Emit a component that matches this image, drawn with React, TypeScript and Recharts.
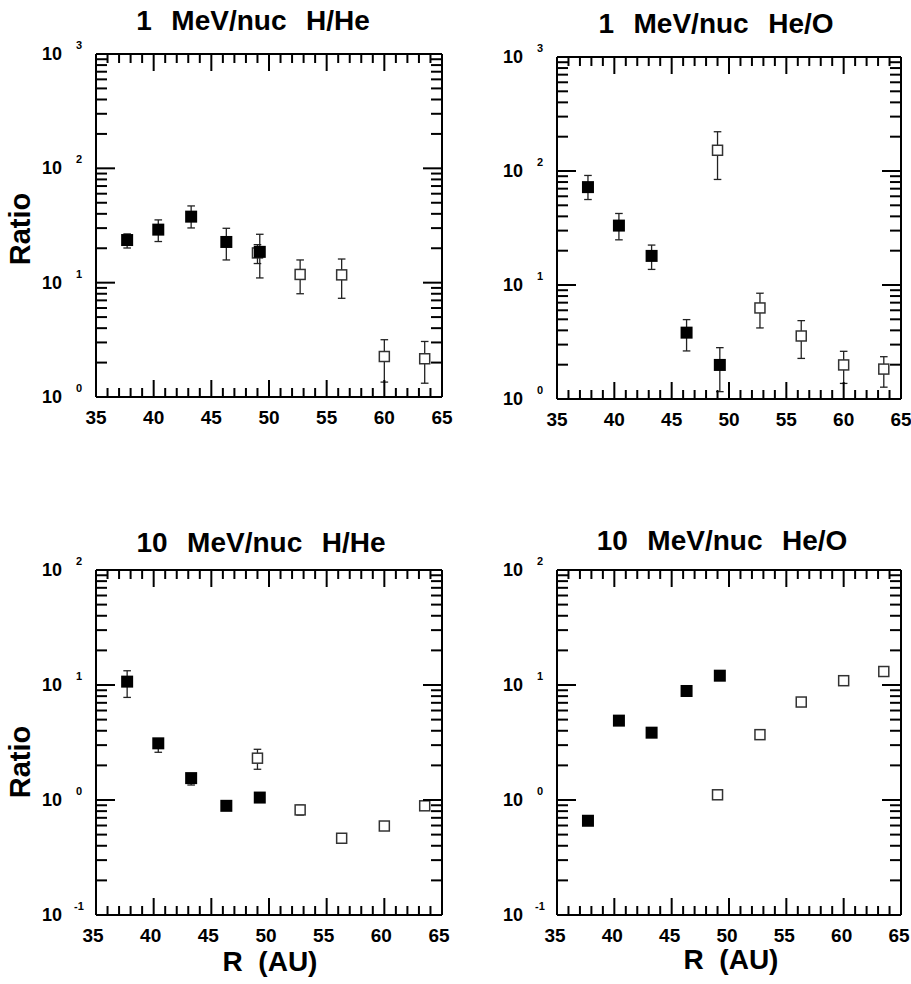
import React from 'react';
import { ScatterChart, Scatter, XAxis, YAxis, ErrorBar } from 'recharts';

const FONT = '"Liberation Sans", Arial, Helvetica, sans-serif';

// Radial distances (AU)
const filledR = [37.7, 40.4, 43.25, 46.3, 49.2];
const openR = [49.0, 52.7, 56.3, 60.0, 63.5];

// Axis ticks
const xTicks = [35, 36, 37, 38, 39, 40, 41, 42, 43, 44, 45, 46, 47, 48, 49, 50, 51, 52, 53, 54, 55, 56, 57, 58, 59, 60, 61, 62, 63, 64, 65];
const xMajor = [35, 40, 45, 50, 55, 60, 65];
const topDecades = [1, 10, 100, 1000];
const bottomDecades = [0.1, 1, 10, 100];
const minorMult = [2, 3, 4, 5, 6, 7, 8, 9];

// Panel 1: 1 MeV/nuc H/He
const p1Filled = [23.6, 29.1, 37.8, 22.7, 18.6];
const p1FilledLo = [20.1, 22.9, 30.1, 15.8, 11.0];
const p1FilledHi = [26.7, 35.4, 46.9, 29.9, 26.5];
const p1Open = [18.2, 11.8, 11.7, 2.26, 2.16];
const p1OpenLo = [14.7, 8.0, 7.3, 1.35, 1.32];
const p1OpenHi = [21.5, 15.8, 16.1, 3.17, 3.06];

// Panel 2: 1 MeV/nuc He/O
const p2Filled = [72.2, 33.2, 18.0, 3.82, 1.99];
const p2FilledLo = [56.2, 24.9, 13.7, 2.64, 1.16];
const p2FilledHi = [91.4, 42.4, 22.4, 4.97, 2.82];
const p2Open = [152, 6.29, 3.57, 1.99, 1.83];
const p2OpenLo = [84.3, 4.2, 2.27, 1.37, 1.27];
const p2OpenHi = [221, 8.47, 4.87, 2.62, 2.35];

// Panel 3: 10 MeV/nuc H/He
const p3Filled = [10.7, 3.11, 1.55, 0.89, 1.05];
const p3FilledLo = [7.8, 2.6, 1.35, 0.85, 1.0];
const p3FilledHi = [13.3, 3.4, 1.65, 0.93, 1.1];
const p3Open = [2.31, 0.82, 0.465, 0.594, 0.89];
const p3OpenLo = [1.85, 0.74, 0.45, 0.58, 0.87];
const p3OpenHi = [2.76, 0.9, 0.48, 0.61, 0.92];

// Panel 4: 10 MeV/nuc He/O
const p4Filled = [0.66, 4.9, 3.85, 8.87, 12.05];
const p4Open = [1.11, 3.7, 7.11, 10.9, 13.1];

const buildTicks = (decades: number[]) => {
  const out: number[] = [];
  decades.forEach((d, i) => {
    out.push(d);
    if (i < decades.length - 1) minorMult.forEach((m) => out.push(parseFloat((d * m).toPrecision(6))));
  });
  return out;
};

const rows = (R: number[], v: number[], lo?: number[], hi?: number[]) =>
  R.map((r, i) => ({
    r,
    v: v[i],
    err: lo && hi ? [v[i] - lo[i], hi[i] - v[i]] : [0, 0],
  }));

const isMajorY = (v: number) => {
  const lg = Math.log10(v);
  return Math.abs(lg - Math.round(lg)) < 1e-6;
};

const XTickBottom = (props: any) => {
  const { x, y, payload, labelDx } = props;
  const v = payload.value;
  const major = xMajor.includes(v);
  return (
    <g>
      <line x1={x} x2={x} y1={y} y2={y - (major ? 17 : 9)} stroke="#000" strokeWidth={2} />
      {major && (
        <text x={x + labelDx} y={y + 20} textAnchor="middle" dominantBaseline="central" fontFamily={FONT} fontWeight="bold" fontSize={19} fill="#000">
          {v}
        </text>
      )}
    </g>
  );
};

const XTickTop = (props: any) => {
  const { x, y, payload } = props;
  const major = xMajor.includes(payload.value);
  return <line x1={x} x2={x} y1={y} y2={y + (major ? 17 : 9)} stroke="#000" strokeWidth={2} />;
};

const YTickLeft = (props: any) => {
  const { x, y, payload } = props;
  const v = payload.value;
  const major = isMajorY(v);
  const exp = Math.round(Math.log10(v));
  return (
    <g>
      <line x1={x} x2={x + (major ? 19 : 11)} y1={y} y2={y} stroke="#000" strokeWidth={2} />
      {major && (
        <g>
          <text x={x - 34} y={y} textAnchor="end" dominantBaseline="central" fontFamily={FONT} fontWeight="bold" fontSize={18} fill="#000">
            10
          </text>
          <text x={x - 17} y={y - 9} textAnchor="middle" dominantBaseline="central" fontFamily={FONT} fontWeight="bold" fontSize={11} fill="#000">
            {String(exp)}
          </text>
        </g>
      )}
    </g>
  );
};

const YTickRight = (props: any) => {
  const { x, y, payload } = props;
  const major = isMajorY(payload.value);
  return <line x1={x} x2={x - (major ? 19 : 11)} y1={y} y2={y} stroke="#000" strokeWidth={2} />;
};

const FilledSquare = (props: any) => {
  const { cx, cy } = props;
  return <rect x={cx - 6} y={cy - 6} width={12} height={12} fill="#000" />;
};

const OpenSquare = (props: any) => {
  const { cx, cy } = props;
  return <rect x={cx - 5} y={cy - 5} width={10} height={10} fill="#fff" stroke="#333" strokeWidth={1.5} />;
};

type PanelProps = {
  left: number;
  top: number;
  width: number;
  height: number;
  margin: { top: number; right: number; bottom: number; left: number };
  yDomain: [number, number];
  yTicks: number[];
  filled: any[];
  open: any[];
  showErr: boolean;
  labelDx: number;
};

const axisLine = { stroke: '#000', strokeWidth: 2 };

function Panel(p: PanelProps) {
  return (
    <div style={{ position: 'absolute', left: p.left, top: p.top, width: p.width, height: p.height }}>
      <ScatterChart width={p.width} height={p.height} margin={p.margin}>
        <XAxis xAxisId="b" type="number" dataKey="r" orientation="bottom" domain={[35, 65]} ticks={xTicks} interval={0}
          height={30} tickSize={0} tickMargin={0} tickLine={false} axisLine={axisLine} allowDataOverflow
          tick={(t: any) => <XTickBottom {...t} labelDx={p.labelDx} />} />
        <XAxis xAxisId="t" type="number" dataKey="r" orientation="top" domain={[35, 65]} ticks={xTicks} interval={0}
          height={10} tickSize={0} tickMargin={0} tickLine={false} axisLine={axisLine} allowDataOverflow
          tick={(t: any) => <XTickTop {...t} />} />
        <YAxis yAxisId="l" type="number" dataKey="v" scale="log" domain={p.yDomain} ticks={p.yTicks} interval={0}
          width={40} tickSize={0} tickMargin={0} tickLine={false} axisLine={axisLine} allowDataOverflow
          tick={(t: any) => <YTickLeft {...t} />} />
        <YAxis yAxisId="r" type="number" dataKey="v" orientation="right" scale="log" domain={p.yDomain} ticks={p.yTicks} interval={0}
          width={10} tickSize={0} tickMargin={0} tickLine={false} axisLine={axisLine} allowDataOverflow
          tick={(t: any) => <YTickRight {...t} />} />
        <Scatter xAxisId="b" yAxisId="l" data={p.open} dataKey="v" shape={OpenSquare} isAnimationActive={false}>
          {p.showErr && <ErrorBar dataKey="err" direction="y" width={3.8} stroke="#222" strokeWidth={1.3} isAnimationActive={false} />}
        </Scatter>
        <Scatter xAxisId="b" yAxisId="l" data={p.filled} dataKey="v" shape={FilledSquare} isAnimationActive={false}>
          {p.showErr && <ErrorBar dataKey="err" direction="y" width={3.8} stroke="#222" strokeWidth={1.3} isAnimationActive={false} />}
        </Scatter>
      </ScatterChart>
    </div>
  );
}

const textBase: React.CSSProperties = {
  position: 'absolute',
  fontFamily: FONT,
  fontWeight: 'bold',
  color: '#000',
  whiteSpace: 'pre',
  textAlign: 'center',
};

const Title = ({ text, cx, cy, size = 28, ws = 0 }: { text: string; cx: number; cy: number; size?: number; ws?: number }) => (
  <div style={{ ...textBase, left: cx - 250, width: 500, top: cy - 20, height: 40, lineHeight: '40px', fontSize: size, wordSpacing: ws }}>{text}</div>
);

const RatioLabel = ({ cx, cy }: { cx: number; cy: number }) => (
  <div style={{ ...textBase, left: cx - 100, width: 200, top: cy - 20, height: 40, lineHeight: '40px', fontSize: 29, transform: 'rotate(-90deg)' }}>
    Ratio
  </div>
);

export default function App() {
  const topTicks = buildTicks(topDecades);
  const botTicks = buildTicks(bottomDecades);
  return (
    <div style={{ position: 'absolute', left: 0, top: 0, width: 911, height: 984, background: '#fff', overflow: 'hidden' }}>
      <Panel left={0} top={0} width={455} height={450} margin={{ top: 44, right: 3, bottom: 23, left: 56 }}
        yDomain={[1, 1000]} yTicks={topTicks}
        filled={rows(filledR, p1Filled, p1FilledLo, p1FilledHi)} open={rows(openR, p1Open, p1OpenLo, p1OpenHi)} showErr labelDx={0} />
      <Panel left={455} top={0} width={456} height={450} margin={{ top: 47, right: 0, bottom: 21, left: 62 }}
        yDomain={[1, 1000]} yTicks={topTicks}
        filled={rows(filledR, p2Filled, p2FilledLo, p2FilledHi)} open={rows(openR, p2Open, p2OpenLo, p2OpenHi)} showErr labelDx={0} />
      <Panel left={0} top={500} width={455} height={484} margin={{ top: 60, right: 3, bottom: 39, left: 56 }}
        yDomain={[0.1, 100]} yTicks={botTicks}
        filled={rows(filledR, p3Filled, p3FilledLo, p3FilledHi)} open={rows(openR, p3Open, p3OpenLo, p3OpenHi)} showErr labelDx={-3} />
      <Panel left={455} top={500} width={456} height={484} margin={{ top: 60, right: 0, bottom: 39, left: 62 }}
        yDomain={[0.1, 100]} yTicks={botTicks}
        filled={rows(filledR, p4Filled)} open={rows(openR, p4Open)} showErr={false} labelDx={-2} />

      <Title text="1  MeV/nuc  H/He" cx={253} cy={21} ws={2} />
      <Title text="1  MeV/nuc  He/O" cx={716} cy={24} ws={2} />
      <Title text="10  MeV/nuc  H/He" cx={261} cy={543} ws={2} />
      <Title text="10  MeV/nuc  He/O" cx={722} cy={541} ws={2} />
      <RatioLabel cx={20} cy={229} />
      <RatioLabel cx={20} cy={762} />
      <Title text="R  (AU)" cx={270} cy={962} />
      <Title text="R  (AU)" cx={731} cy={960} />
    </div>
  );
}
